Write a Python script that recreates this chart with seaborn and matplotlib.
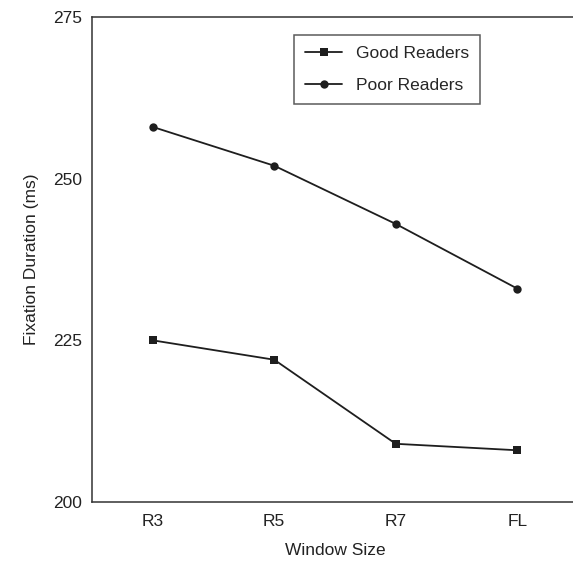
import matplotlib
matplotlib.use("Agg")
import matplotlib.pyplot as plt
import seaborn as sns
import pandas as pd

window_sizes = ["R3", "R5", "R7", "FL"]
good_readers = [225, 222, 209, 208]
poor_readers = [258, 252, 243, 233]
y_ticks = [200, 225, 250, 275]


def build_frame():
    rows = []
    for w, g, p in zip(window_sizes, good_readers, poor_readers):
        rows.append({"Window Size": w, "Fixation": g, "Group": "Good Readers"})
        rows.append({"Window Size": w, "Fixation": p, "Group": "Poor Readers"})
    return pd.DataFrame(rows)


def main():
    df = build_frame()
    sns.set_style("white")
    plt.rcParams["font.family"] = ["Liberation Sans", "DejaVu Sans"]

    fig = plt.figure(figsize=(5.73, 5.71), dpi=100)
    ax = fig.add_axes([92 / 573, 1 - 502 / 571, (578 - 92) / 573, (502 - 17) / 571])

    sns.lineplot(
        data=df, x="Window Size", y="Fixation", hue="Group", style="Group",
        markers={"Good Readers": "s", "Poor Readers": "o"}, dashes=False,
        palette={"Good Readers": "#1e1e1e", "Poor Readers": "#1e1e1e"},
        linewidth=1.3, markersize=6, markeredgewidth=0, sort=False, ax=ax,
    )

    ax.set_xlim(-0.5, 3.5)
    ax.set_ylim(200, 275)
    ax.set_yticks(y_ticks)
    ax.tick_params(axis="both", length=0, labelsize=12.5, colors="#222222")
    ax.tick_params(axis="x", pad=9)
    ax.tick_params(axis="y", pad=7)
    ax.set_xlabel("Window Size", fontsize=12.5, color="#222222", labelpad=10)
    ax.set_ylabel("Fixation Duration (ms)", fontsize=12.5, color="#222222", labelpad=10)
    for s in ax.spines.values():
        s.set_color("#333333")
        s.set_linewidth(1.1)

    leg = ax.legend(
        loc="upper left", bbox_to_anchor=(294 / 573, 1 - 35 / 571),
        bbox_transform=fig.transFigure, frameon=True, fancybox=False,
        fontsize=12.5, handlelength=2.1, borderpad=0.65, labelspacing=0.95,
        handletextpad=0.8, borderaxespad=0,
    )
    leg.get_frame().set_edgecolor("#333333")
    leg.get_frame().set_linewidth(1.1)

    fig.savefig("out.png", dpi=100)


if __name__ == "__main__":
    main()
